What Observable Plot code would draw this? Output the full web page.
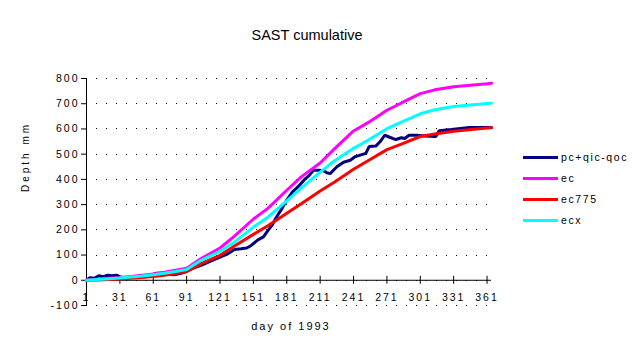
<!DOCTYPE html>
<html>
<head>
<meta charset="utf-8">
<script src="https://cdn.jsdelivr.net/npm/d3@7"></script>
<script src="https://cdn.jsdelivr.net/npm/@observablehq/plot@0.6"></script>
<style>
  body { margin: 0; background: white; }
  #wrap { position: relative; width: 640px; height: 364px; }
  .legend { position: absolute; left: 523px; top: 150px; font-family: Arial, "Liberation Sans", sans-serif; font-size: 10.5px; letter-spacing: 1.6px; }
  .row { position: absolute; left: 0; height: 14px; white-space: nowrap; }
  .swatch { position: absolute; left: 0; top: 6px; width: 35px; height: 3px; }
  .lab { position: absolute; left: 38px; top: 0; line-height: 14px; }
</style>
</head>
<body>
<div id="wrap"></div>
<script>
const seriesNames = ["pc+qic-qoc", "ec", "ec775", "ecx"];
const seriesColors = ["#000080", "#ff00ff", "#ff0000", "#00ffff"];

const navyDays = [1,4,8,12,16,20,24,28,32,36,45,55,60,64,70,74,80,86,91,97,104,112,121,128,134,140,145,149,155,160,164,168,171,176,181,186,191,197,201,205,210,214,217,220,226,232,238,242,247,252,255,261,265,269,273,279,284,287,291,298,305,315,318,329,345,365];
const navyVals = [0,10,8,18,14,20,18,20,12,10,12,16,22,28,28,24,22,28,35,48,59,75,92,105,122,125,128,138,160,172,197,220,245,280,318,350,370,400,415,436,436,434,426,423,450,468,476,489,496,503,530,532,550,575,568,558,565,562,575,575,572,570,593,598,606,606];

const smoothDays = [1,11,21,31,41,51,61,71,81,91,104,121,134,151,164,181,194,211,224,241,254,271,284,301,314,331,361,365];
const ecVals    = [0,5,8,11,15,20,25,32,40,48,86,128,175,243,285,357,410,465,522,592,625,674,703,740,755,767,779,781];
const ec775Vals = [0,1,3,5,8,11,15,20,27,35,66,99,136,182,216,266,303,354,390,440,474,518,540,570,580,591,604,605];
const ecxVals   = [0,3,6,9,13,17,22,28,35,43,79,115,151,211,250,315,365,429,474,523,555,601,627,660,676,689,701,702];

const xTicks = [1,31,61,91,121,151,181,211,241,271,301,331,361];
const yTicks = [-100,0,100,200,300,400,500,600,700,800];

const titleText = "SAST cumulative";
const xLabel = "day of 1993";
const yLabel = "Depth mm";

const rows = [];
navyDays.forEach((d, i) => rows.push({s: seriesNames[0], day: d, v: navyVals[i]}));
smoothDays.forEach((d, i) => rows.push({s: seriesNames[1], day: d, v: ecVals[i]}));
smoothDays.forEach((d, i) => rows.push({s: seriesNames[2], day: d, v: ec775Vals[i]}));
smoothDays.forEach((d, i) => rows.push({s: seriesNames[3], day: d, v: ecxVals[i]}));

const chart = Plot.plot({
  width: 640,
  height: 364,
  marginLeft: 86,
  marginRight: 149,
  marginTop: 78,
  marginBottom: 59,
  style: "font-family: Arial, 'Liberation Sans', sans-serif; font-size: 10.5px; letter-spacing: 2px; background: white; overflow: visible; color: black;",
  x: {domain: [1, 365], axis: null},
  y: {domain: [-100, 800], ticks: yTicks, tickSize: 5, tickPadding: 2, tickFormat: d => String(d), label: null},
  color: {domain: seriesNames, range: seriesColors},
  marks: [
    Plot.ruleY(yTicks, {stroke: "black", strokeDasharray: "1,9", shapeRendering: "crispEdges"}),
    Plot.ruleX([1], {stroke: "black"}),
    Plot.ruleY([0], {stroke: "black"}),
    Plot.ruleX(xTicks, {x: d => d, y1: 0, y2: 0, insetTop: -4, insetBottom: -4, stroke: "black"}),
    Plot.text(xTicks, {x: d => d, frameAnchor: "bottom", dy: -5, text: d => String(d), fontSize: 10.5}),
    Plot.line(rows, {x: "day", y: "v", z: "s", stroke: "s", strokeWidth: 3, strokeLinejoin: "miter"}),
    Plot.text([titleText], {frameAnchor: "top", dx: 18, dy: -49, fontSize: 14.5}),
    Plot.text([xLabel], {frameAnchor: "bottom", dx: 2, dy: 24, fontSize: 11}),
    Plot.text([yLabel], {frameAnchor: "left", dx: -61, rotate: -90, fontSize: 10})
  ]
});
d3.select(chart).selectAll("text").each(function() {
  const t = this.textContent;
  if (t === titleText) d3.select(this).style("letter-spacing", "0px");
  if (t === yLabel) d3.select(this).style("letter-spacing", "3px");
});
document.getElementById("wrap").appendChild(chart);

const legend = document.createElement("div");
legend.className = "legend";
const rowTops = [0, 21, 42, 63];
seriesNames.forEach((name, i) => {
  const r = document.createElement("div");
  r.className = "row";
  r.style.top = rowTops[i] + "px";
  const sw = document.createElement("div");
  sw.className = "swatch";
  sw.style.background = seriesColors[i];
  const lb = document.createElement("div");
  lb.className = "lab";
  lb.textContent = name;
  r.appendChild(sw); r.appendChild(lb);
  legend.appendChild(r);
});
document.getElementById("wrap").appendChild(legend);
</script>
</body>
</html>
